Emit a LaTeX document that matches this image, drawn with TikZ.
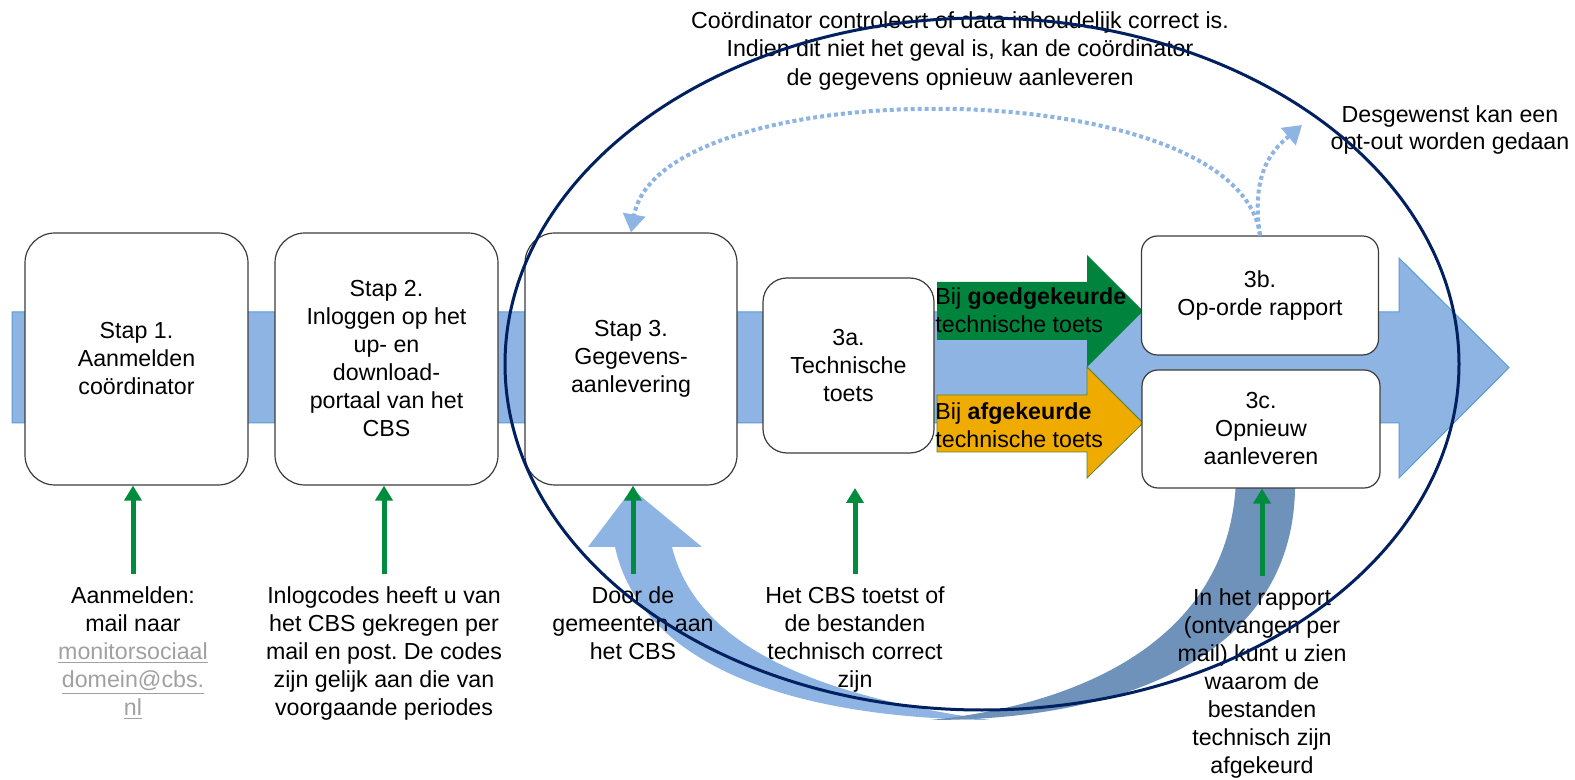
\documentclass[tikz,border=0pt]{standalone}
\usepackage{fontspec}
\setmainfont{Liberation Sans}
\usetikzlibrary{arrows.meta}
\frenchspacing
\definecolor{bandblue}{RGB}{142,180,227}
\definecolor{bandline}{RGB}{91,155,213}
\definecolor{darkband}{RGB}{110,146,186}
\definecolor{okgreen}{RGB}{0,132,61}
\definecolor{arrowgreen}{RGB}{0,140,62}
\definecolor{failorange}{RGB}{240,171,0}
\definecolor{failline}{RGB}{84,130,53}
\definecolor{navy}{RGB}{0,32,96}
\definecolor{linkgray}{RGB}{160,160,160}
\definecolor{boxline}{RGB}{60,60,60}
\begin{document}
\begin{tikzpicture}[x=0.5pt,y=-0.5pt]
\tikzset{
big node/.style={draw=boxline,line width=0.6pt,fill=white,rounded corners=15pt,minimum height=126pt,align=center,inner sep=0pt,font=\fontsize{11.6}{14}\selectfont},
small node/.style={draw=boxline,line width=0.6pt,fill=white,rounded corners=8pt,align=center,inner sep=0pt,font=\fontsize{11.6}{14}\selectfont},
note node/.style={align=center,anchor=north,inner sep=2pt,font=\fontsize{11.6}{14}\selectfont},
up arrow/.style={draw=arrowgreen,line width=2.5pt,shorten <=4pt,-{Triangle[width=8.5pt,length=7.5pt]}},
dot arrow/.style={draw=bandblue,line width=2pt,dash pattern=on 2pt off 1.5pt,-{Triangle[width=11pt,length=9pt]}}
}
\useasboundingbox (0,0) rectangle (1575,780);

\fill[bandblue,draw=bandline,line width=0.5pt] (12,312) -- (1399,312) -- (1399,258) -- (1509,367.5) -- (1399,478) -- (1399,423) -- (12,423) -- cycle;
\fill[okgreen] (937,282) -- (1087,282) -- (1087,255) -- (1143,311) -- (1087,367) -- (1087,340) -- (937,340) -- cycle;
\filldraw[fill=failorange,draw=failline,line width=0.4pt] (937,395) -- (1087,395) -- (1087,367) -- (1143,423) -- (1087,478) -- (1087,452) -- (937,452) -- cycle;

\fill[bandblue] (615,547) .. controls (640,660) and (780,718) .. (990,720) .. controls (850,700) and (700,660) .. (672,547) -- (702,547) -- (632,489) -- (588,547) -- cycle;
\fill[darkband] (1295,480) .. controls (1298,640) and (1150,720) .. (930,720) .. controls (1080,705) and (1230,640) .. (1236,480) -- cycle;

\node (s1) [big node,minimum width=111.5pt] at (136.5,359) {Stap 1.\\Aanmelden\\coördinator};
\node (s2) [big node,minimum width=111.5pt] at (386.5,359) {Stap 2.\\Inloggen op het\\up- en\\download-\\portaal van het\\CBS};
\node (s3) [big node,minimum width=106pt] at (631,359) {Stap 3.\\Gegevens-\\aanlevering};
\node (s3a) [small node,minimum width=85.5pt,minimum height=87.5pt,rounded corners=12pt] at (848.5,365.5) {3a.\\Technische\\toets};
\node (s3b) [small node,minimum width=118.5pt,minimum height=59.5pt] at (1260,295.5) {3b.\\Op-orde rapport};
\node (s3c) [small node,minimum width=119pt,minimum height=59pt] at (1261,429) {3c.\\Opnieuw\\aanleveren};

\node (ok) [anchor=north west,align=left,inner sep=0pt,font=\fontsize{11.6}{14}\selectfont] at (935,287) {Bij \textbf{goedgekeurde}\\technische toets};
\node (fail) [anchor=north west,align=left,inner sep=0pt,font=\fontsize{11.6}{14}\selectfont] at (935,402) {Bij \textbf{afgekeurde}\\technische toets};

\node (n1) [note node] at (133,582) {Aanmelden:\\mail naar\\\textcolor{linkgray}{\underline{monitorsociaal}}\\\textcolor{linkgray}{\underline{domein@cbs.}}\\\textcolor{linkgray}{\underline{nl}}};
\node (n2) [note node] at (384,582) {Inlogcodes heeft u van\\het CBS gekregen per\\mail en post. De codes\\zijn gelijk aan die van\\voorgaande periodes};
\node (n3) [note node] at (633,582) {Door de\\gemeenten aan\\het CBS};
\node (n4) [note node] at (855,582) {Het CBS toetst of\\de bestanden\\technisch correct\\zijn};
\node (n5) [note node] at (1262,584) {In het rapport\\(ontvangen per\\mail) kunt u zien\\waarom de\\bestanden\\technisch zijn\\afgekeurd};
\coordinate (t3a) at (855,488);

\draw[up arrow] (n1.north) -- (n1.north |- s1.south);
\draw[up arrow] (n2.north) -- (n2.north |- s2.south);
\draw[up arrow] (n3.north) -- (n3.north |- s3.south);
\draw[up arrow] (n4.north) -- (t3a);
\draw[up arrow] (n5.north) -- (n5.north |- s3c.south);

\node (ctrl) [anchor=north,align=center,inner sep=0pt,font=\fontsize{11.6}{14.25}\selectfont] at (960,11) {Coördinator controleert of data inhoudelijk correct is.\\Indien dit niet het geval is, kan de coördinator\\de gegevens opnieuw aanleveren};
\node (optout) [anchor=north,align=center,inner sep=0pt,font=\fontsize{11.6}{13.5}\selectfont] at (1450,105) {Desgewenst kan een\\opt-out worden gedaan};
\coordinate (oo) at (1302,125);

\draw[dot arrow] (s3b.north) .. controls (1240,70) and (660,70) .. (s3.north);
\draw[dot arrow] (s3b.north) .. controls (1250,170) and (1275,148) .. (oo);

\draw[navy,line width=1.5pt] (982,364) ellipse [x radius=238.5pt,y radius=173pt];
\end{tikzpicture}
\end{document}
